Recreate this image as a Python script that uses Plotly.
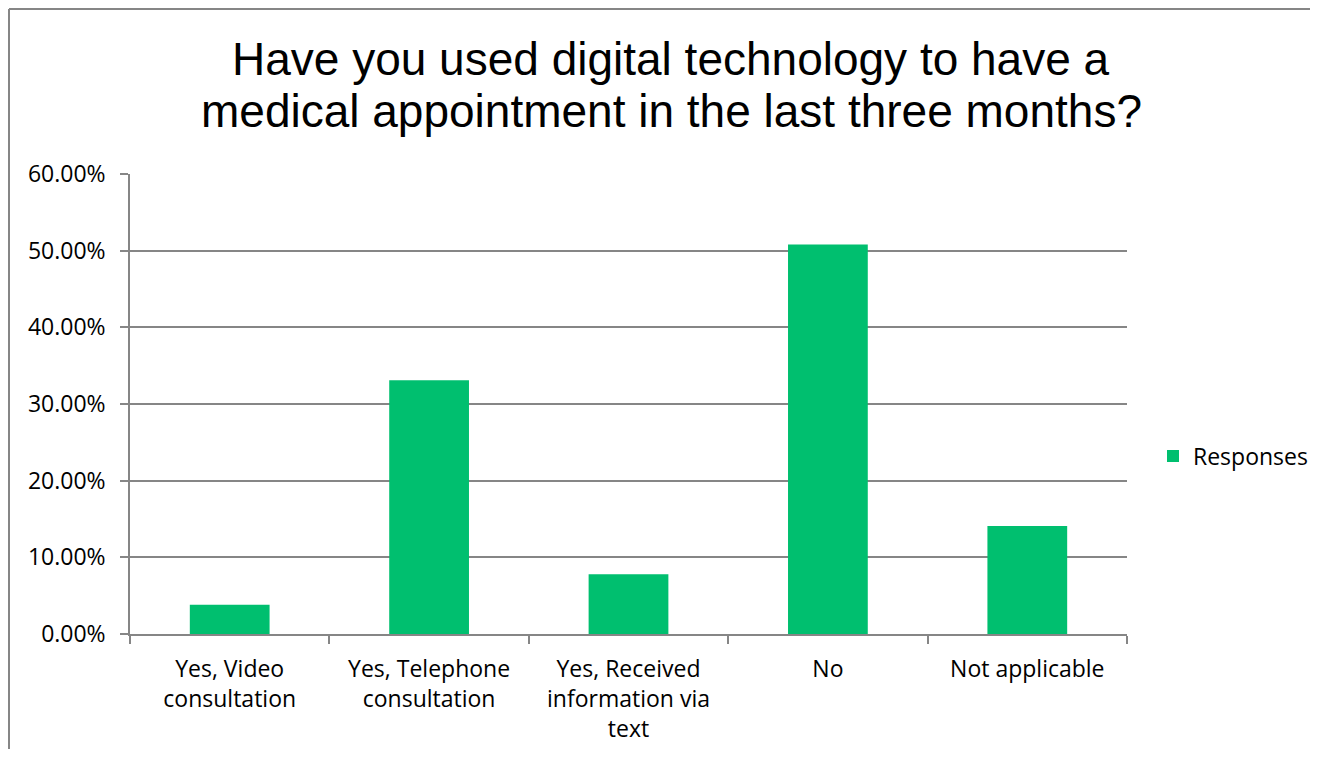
import plotly.graph_objects as go

categories = [
    "Yes, Video<br>consultation",
    "Yes, Telephone<br>consultation",
    "Yes, Received<br>information via<br>text",
    "No",
    "Not applicable",
]
values = [0.038, 0.331, 0.078, 0.508, 0.141]
series_name = "Responses"
title_lines = [
    "Have you used digital technology to have a",
    "medical appointment in the last three months?",
]
y_ticks = [0, 0.1, 0.2, 0.3, 0.4, 0.5, 0.6]

# page body has an 8px margin; keep the figure inside the viewport
OFF = 8
W, H = 1318 - 2 * OFF, 757 - 2 * OFF
PL, PR, PT, PB = 130, 1127, 174, 634          # plot area in screen pixels
ML, MT = PL - OFF, PT - OFF
MR = W - (PR - OFF)
MB = H - (PB - OFF)
PW, PH = PR - PL, PB - PT


def px_x(p):
    return (p - PL) / PW


def px_y(p):
    return (PB - p) / PH


GRAY = "#868686"
GREEN = "#00BF6F"
FONT = "Open Sans"

fig = go.Figure()
fig.add_trace(go.Bar(
    x=categories, y=values, name=series_name,
    marker=dict(color=GREEN, line=dict(width=0)),
    showlegend=True,
))

fig.update_layout(
    width=W, height=H, autosize=False,
    margin=dict(l=ML, r=MR, t=MT, b=MB, pad=0, autoexpand=False),
    paper_bgcolor="white", plot_bgcolor="white",
    bargap=0.6,
    font=dict(family=FONT, size=23, color="#000000"),
    showlegend=True,
    legend=dict(x=px_x(1153), xanchor="left", y=px_y(456), yanchor="middle",
                font=dict(family=FONT, size=23, color="#000000"),
                bgcolor="rgba(0,0,0,0)"),
    xaxis=dict(
        type="category", showgrid=False, showline=True, linecolor=GRAY, linewidth=1.5,
        ticks="outside", tickson="boundaries", ticklen=8, tickcolor=GRAY, tickwidth=1.5,
        tickfont=dict(family=FONT, size=23, color="#000000"),
        ticklabelstandoff=14, automargin=False,
    ),
    yaxis=dict(
        range=[0, 0.6], tickvals=y_ticks, tickformat=".2%",
        showgrid=True, gridcolor=GRAY, gridwidth=1.5,
        showline=True, linecolor=GRAY, linewidth=1.5,
        ticks="outside", ticklen=8, tickcolor=GRAY, tickwidth=1.5,
        zeroline=False, automargin=False,
        tickfont=dict(family=FONT, size=23, color="#000000"),
        ticklabelstandoff=10,
    ),
)

title_centers = [59, 111]
for line, cy in zip(title_lines, title_centers):
    fig.add_annotation(
        text=line, xref="paper", yref="paper",
        x=px_x(671), y=px_y(cy), xanchor="center", yanchor="middle",
        showarrow=False,
        font=dict(family="Liberation Sans", size=46, color="#000000"),
    )

# outer chart frame (top and left edges visible)
fig.add_shape(type="line", xref="paper", yref="paper",
              x0=px_x(9), x1=px_x(1340), y0=px_y(9), y1=px_y(9),
              line=dict(color=GRAY, width=2))
fig.add_shape(type="line", xref="paper", yref="paper",
              x0=px_x(9), x1=px_x(9), y0=px_y(9), y1=px_y(780),
              line=dict(color=GRAY, width=2))

fig.write_html("out.html")
